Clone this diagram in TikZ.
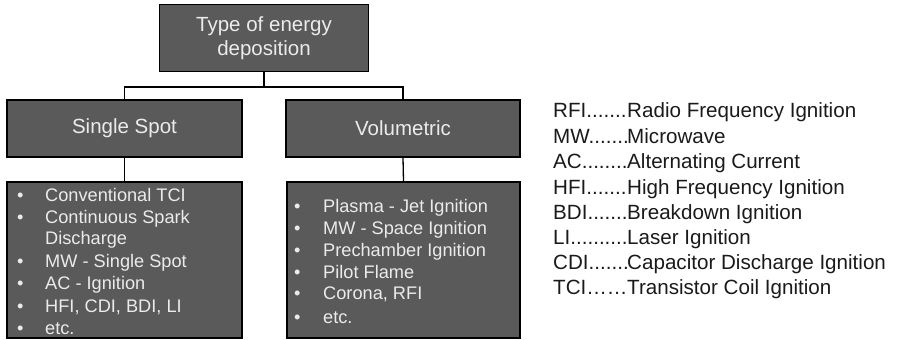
\documentclass[tikz,border=0pt]{standalone}
\usepackage{fontspec}
\setmainfont{Liberation Sans}
\definecolor{boxfill}{HTML}{5A5A5A}
\definecolor{boxtext}{HTML}{EBEBEB}
\definecolor{legtext}{HTML}{1A1A1A}
\begin{document}
\begin{tikzpicture}[x=1pt,y=-1pt,
  darkbox/.style={draw=black,line width=1.5pt,fill=boxfill,inner sep=0pt},
  headtext/.style={text=boxtext,font=\fontsize{20.5}{24}\selectfont,align=center},
  item/.style={text=boxtext,font=\fontsize{18.2}{22}\selectfont,anchor=base west,inner sep=0pt},
  legend/.style={text=legtext,font=\fontsize{20.6}{24}\selectfont,anchor=base west,inner sep=0pt},
  link/.style={draw=black,line width=1.3pt}]
\useasboundingbox (0,0) rectangle (897,340);
% boxes
\node[darkbox,minimum width=209pt,minimum height=67pt] (top) at (264,38) {};
\node[headtext] (toptext) at (264,38) {Type of energy\\deposition};
\node[darkbox,minimum width=235pt,minimum height=57pt] (ss) at (124.5,128.5) {};
\node[headtext] (sstext) at (124.5,128.5) {Single Spot};
\node[darkbox,minimum width=234pt,minimum height=57pt] (vol) at (403,128.5) {};
\node[headtext] (voltext) at (403,128.5) {Volumetric};
\node[darkbox,minimum width=235pt,minimum height=156pt] (ssl) at (124.5,260) {};
\node[darkbox,minimum width=233pt,minimum height=156pt] (voll) at (403.5,260) {};
% connectors
\coordinate (j) at (264,87);
\draw[link] (top.south) -- (j);
\draw[link] (ss.north) |- (j) -| (vol.north);
\draw[link] (ss.south) -- (ssl.north);
\draw[link] (vol.south) -- (voll.north);
% left list
\node[item] (l1) at (17,201) {\makebox[28pt][l]{•}Conventional TCI};
\node[item] (l2) at (17,223) {\makebox[28pt][l]{•}Continuous Spark};
\node[item] (l3) at (17,244) {\makebox[28pt][l]{}Discharge};
\node[item] (l4) at (17,267) {\makebox[28pt][l]{•}MW - Single Spot};
\node[item] (l5) at (17,289) {\makebox[28pt][l]{•}AC - Ignition};
\node[item] (l6) at (17,312) {\makebox[28pt][l]{•}HFI, CDI, BDI, LI};
\node[item] (l7) at (17,334) {\makebox[28pt][l]{•}etc.};
% right list
\node[item] (r1) at (294,212) {\makebox[29pt][l]{•}Plasma - Jet Ignition};
\node[item] (r2) at (294,234) {\makebox[29pt][l]{•}MW - Space Ignition};
\node[item] (r3) at (294,256) {\makebox[29pt][l]{•}Prechamber Ignition};
\node[item] (r4) at (294,278) {\makebox[29pt][l]{•}Pilot Flame};
\node[item] (r5) at (294,299) {\makebox[29pt][l]{•}Corona, RFI};
\node[item] (r6) at (294,323) {\makebox[29pt][l]{•}etc.};
% legend
\node[legend] (g1) at (553,117) {\makebox[74pt][l]{RFI.......}Radio Frequency Ignition};
\node[legend] (g2) at (553,143) {\makebox[74pt][l]{MW.......}Microwave};
\node[legend] (g3) at (553,168) {\makebox[74pt][l]{AC........}Alternating Current};
\node[legend] (g4) at (553,194) {\makebox[74pt][l]{HFI.......}High Frequency Ignition};
\node[legend] (g5) at (553,219) {\makebox[74pt][l]{BDI.......}Breakdown Ignition};
\node[legend] (g6) at (553,244) {\makebox[74pt][l]{LI..........}Laser Ignition};
\node[legend] (g7) at (553,269) {\makebox[74pt][l]{CDI.......}Capacitor Discharge Ignition};
\node[legend] (g8) at (553,294) {\makebox[74pt][l]{TCI……}Transistor Coil Ignition};
\end{tikzpicture}
\end{document}
